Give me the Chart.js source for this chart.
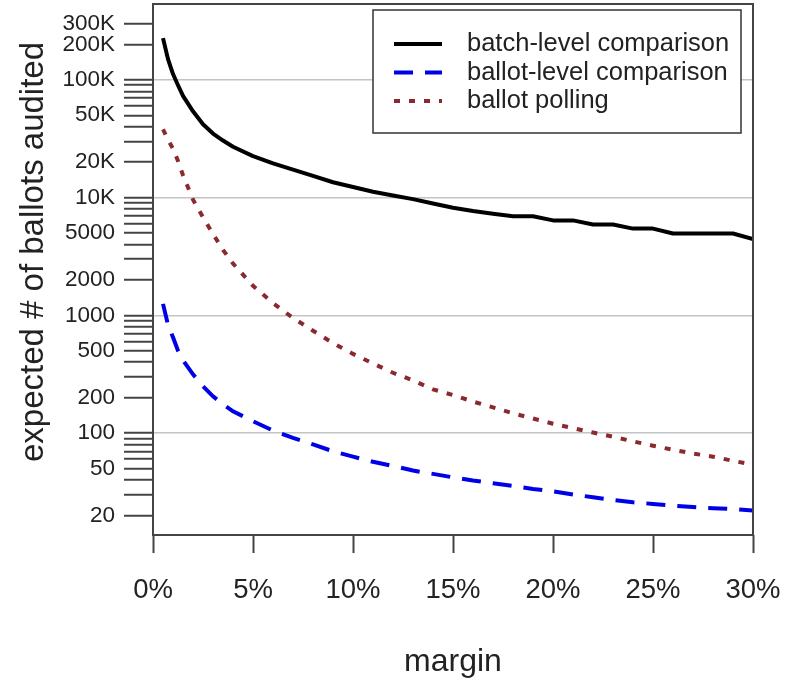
<!DOCTYPE html>
<html>
<head>
<meta charset="utf-8">
<script src="https://cdn.jsdelivr.net/npm/chart.js@4.4.1/dist/chart.umd.min.js"></script>
<style>
  html, body { margin: 0; background: #fff; }
</style>
</head>
<body>
<canvas id="chart" width="786" height="681"></canvas>
<script>
// margin (%) at which each curve was read
const margins = [0.5, 0.75, 1, 1.25, 1.5, 2, 2.5, 3, 3.5, 4,
  5, 6, 7, 8, 9, 10, 11, 12, 13, 14, 15, 16, 17, 18, 19, 20,
  21, 22, 23, 24, 25, 26, 27, 28, 29, 30];

const batchLevel = [226000, 150000, 112000, 90000, 73000, 54000, 42000, 35000, 30500, 27000,
  22500, 19500, 17300, 15300, 13500, 12300, 11200, 10400, 9700, 8900, 8200, 7700, 7300, 6950, 6950, 6400,
  6400, 5900, 5900, 5450, 5450, 4950, 4950, 4950, 4950, 4450];

const ballotLevel = [1250, 830, 650, 500, 415, 315, 250, 205, 175, 153,
  126, 105, 91, 80, 70, 63, 57, 52.5, 48, 45, 42, 39.5, 37.5, 35.5, 33.5, 32,
  30, 28.5, 27, 25.8, 25, 24.2, 23.5, 23, 22.6, 22];

const ballotPolling = [38000, 31000, 26000, 20500, 15500, 9600, 6800, 4900, 3600, 2750,
  1780, 1270, 950, 740, 580, 470, 390, 325, 280, 235, 210, 185, 165, 147, 133, 120,
  110, 101, 93, 85, 78, 72, 67, 63, 58, 54];

const xTicks = [0, 5, 10, 15, 20, 25, 30];
const yTicks = [20, 30, 40, 50, 60, 70, 80, 90, 100,
  200, 300, 400, 500, 600, 700, 800, 900, 1000,
  2000, 3000, 4000, 5000, 6000, 7000, 8000, 9000, 10000,
  20000, 30000, 40000, 50000, 60000, 70000, 80000, 90000, 100000,
  200000, 300000];
const yLabels = {20: "20", 50: "50", 100: "100", 200: "200", 500: "500", 1000: "1000",
  2000: "2000", 5000: "5000", 10000: "10K", 20000: "20K", 50000: "50K",
  100000: "100K", 200000: "200K", 300000: "300K"};
const gridValues = [100, 1000, 10000, 100000];
const yTitle = "expected # of ballots audited";

const pts = vals => margins.map((m, i) => ({ x: m, y: vals[i] }));

const FONT = '"Liberation Sans", Arial, sans-serif';
Chart.defaults.font.family = FONT;
Chart.defaults.color = "#222";

// plot box, boxed legend and the y title (R-style layout)
const boxLegend = {
  id: "boxLegend",
  afterDatasetsDraw(chart) {
    const { ctx, chartArea: a } = chart;
    ctx.save();
    ctx.strokeStyle = "#444";
    ctx.lineWidth = 2;
    ctx.strokeRect(a.left, a.top, a.right - a.left, a.bottom - a.top);

    const x0 = 373, y0 = 10, w = 368, h = 123;
    ctx.fillStyle = "#fff";
    ctx.fillRect(x0, y0, w, h);
    ctx.lineWidth = 1.5;
    ctx.strokeStyle = "#333";
    ctx.strokeRect(x0, y0, w, h);
    ctx.font = "25.5px " + FONT;
    ctx.textBaseline = "middle";
    chart.data.datasets.forEach((ds, i) => {
      const y = y0 + 34 + i * 28.5;
      ctx.strokeStyle = ds.borderColor;
      ctx.lineWidth = ds.borderWidth;
      ctx.setLineDash(ds.borderDash || []);
      ctx.beginPath();
      ctx.moveTo(394, y);
      ctx.lineTo(442, y);
      ctx.stroke();
      ctx.setLineDash([]);
      ctx.fillStyle = "#222";
      ctx.fillText(ds.label, 467, y);
    });

    ctx.translate(34, 252);
    ctx.rotate(-Math.PI / 2);
    ctx.font = "33px " + FONT;
    ctx.textAlign = "center";
    ctx.fillStyle = "#222";
    ctx.fillText(yTitle, 0, 0);
    ctx.restore();
  }
};

new Chart(document.getElementById("chart"), {
  type: "line",
  data: {
    datasets: [
      { label: "batch-level comparison", data: pts(batchLevel),
        borderColor: "#000", borderWidth: 4, pointRadius: 0, borderJoinStyle: "round" },
      { label: "ballot-level comparison", data: pts(ballotLevel),
        borderColor: "#0000e6", borderWidth: 4, borderDash: [19, 12], pointRadius: 0 },
      { label: "ballot polling", data: pts(ballotPolling),
        borderColor: "#8b2a2e", borderWidth: 4, borderDash: [6, 9], pointRadius: 0 }
    ]
  },
  options: {
    responsive: false,
    devicePixelRatio: 1,
    animation: false,
    layout: { padding: { top: 4, right: 33, bottom: 0, left: 0 } },
    plugins: { legend: { display: false }, tooltip: { enabled: false } },
    scales: {
      x: {
        type: "linear", min: 0, max: 30,
        afterBuildTicks: s => { s.ticks = xTicks.map(v => ({ value: v })); },
        afterFit: s => { s.height = 146; s.paddingLeft = 0; s.paddingRight = 0; },
        ticks: { callback: v => v + "%", font: { size: 27.5 }, padding: 21, maxRotation: 0 },
        grid: { drawOnChartArea: false, tickLength: 18, tickColor: "#444", tickWidth: 2 },
        border: { display: false },
        title: { display: true, text: "margin", font: { size: 32 }, padding: { top: 0, bottom: 0 } }
      },
      y: {
        type: "logarithmic", min: 13.61, max: 440800,
        afterBuildTicks: s => { s.ticks = yTicks.map(v => ({ value: v })); },
        afterFit: s => { s.width = 153; s.paddingTop = 0; s.paddingBottom = 0; },
        ticks: { autoSkip: false, callback: v => yLabels[v] || "", font: { size: 22.5 }, padding: 9 },
        grid: {
          color: c => (c.tick && gridValues.includes(c.tick.value)) ? "#c4c4c4" : "transparent",
          lineWidth: 1.5, tickLength: 29, tickColor: "#444", tickWidth: 2
        },
        border: { display: false }
      }
    }
  },
  plugins: [boxLegend]
});
</script>
</body>
</html>
